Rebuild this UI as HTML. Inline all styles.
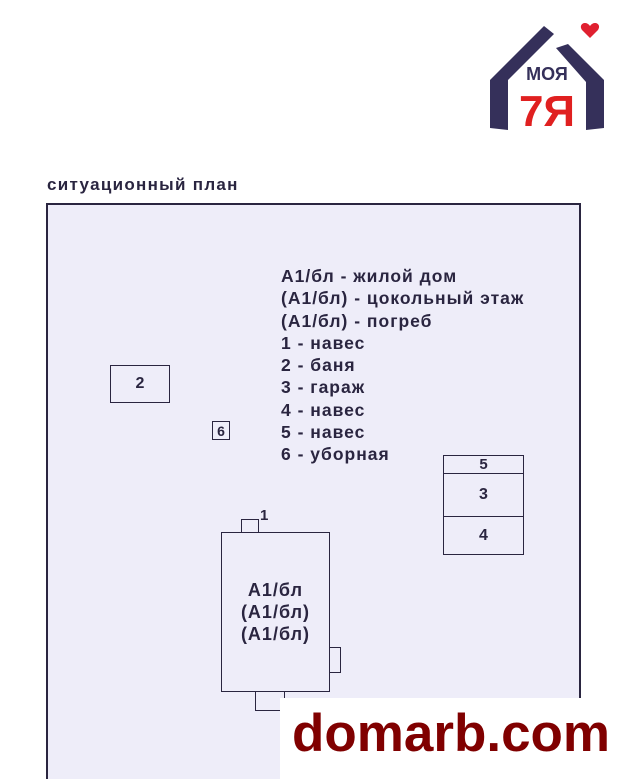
<!DOCTYPE html>
<html style="margin:0;height:779px;overflow:hidden"><head><meta charset="utf-8"><style>
body{margin:0;width:630px;height:779px;background:#fff;position:relative;overflow:hidden;font-family:"Liberation Sans","DejaVu Sans",sans-serif;color:#2a2540}
.a{position:absolute}
.b{position:absolute;border:1.5px solid #2a2540;box-sizing:border-box;display:flex;align-items:center;justify-content:center;font-weight:bold;font-size:16px}
.w{letter-spacing:1px}
</style></head><body>
<div class="a" style="left:46px;top:203px;width:535px;height:576px;background:#eeedf9;border:2px solid #2a2540;border-bottom:none;box-sizing:border-box"></div>
<div class="a w" style="left:47px;top:175px;font-size:17px;font-weight:bold;letter-spacing:1.3px">ситуационный план</div>
<div class="a w" style="left:281px;top:265px;font-size:17.5px;font-weight:bold;line-height:22.3px">А1/бл - жилой дом<br>(А1/бл) - цокольный этаж<br>(А1/бл) - погреб<br>1 - навес<br>2 - баня<br>3 - гараж<br>4 - навес<br>5 - навес<br>6 - уборная</div>
<div class="b" style="left:110px;top:365px;width:60px;height:38px">2</div>
<div class="b" style="left:212px;top:421px;width:18px;height:19px;font-size:14px">6</div>
<div class="b" style="left:443px;top:455px;width:81px;height:19px;font-size:15px">5</div>
<div class="b" style="left:443px;top:473px;width:81px;height:44px">3</div>
<div class="b" style="left:443px;top:516px;width:81px;height:39px">4</div>
<div class="b" style="left:241px;top:519px;width:18px;height:14px"></div>
<div class="a" style="left:260px;top:507px;font-weight:bold;font-size:15px">1</div>
<div class="b" style="left:328px;top:647px;width:13px;height:26px"></div>
<div class="b" style="left:255px;top:691px;width:30px;height:20px"></div>
<div class="b w" style="left:221px;top:532px;width:109px;height:160px;background:#eeedf9;flex-direction:column;font-size:18px;line-height:22px;text-align:center">А1/бл<br>(А1/бл)<br>(А1/бл)</div>
<div class="a" style="left:280px;top:698px;width:350px;height:81px;background:#fff"></div>
<div class="a" style="left:292px;top:703px;font-size:53px;font-weight:bold;color:#800000">domarb.com</div>
<svg class="a" style="left:482px;top:18px" width="130" height="115" viewBox="0 0 130 115">
<path d="M8 110 L8 62 L62 8 L72 16 L26 62 L26 112 Z" fill="#35305a"/>
<path d="M122 110 L122 62 L86 26 L74 30 L104 64 L104 112 Z" fill="#35305a"/>
<path d="M108 8 c-4-6-12-2-8 4 l8 8 l8-8 c4-6-4-10-8-4z" fill="#e02030"/>
<text x="65" y="62" text-anchor="middle" font-family="Liberation Sans" font-weight="bold" font-size="18" fill="#35305a">МОЯ</text>
<text x="65" y="108" text-anchor="middle" font-family="Liberation Sans" font-weight="bold" font-size="44" fill="#e02020">7Я</text>
</svg>
</body></html>
